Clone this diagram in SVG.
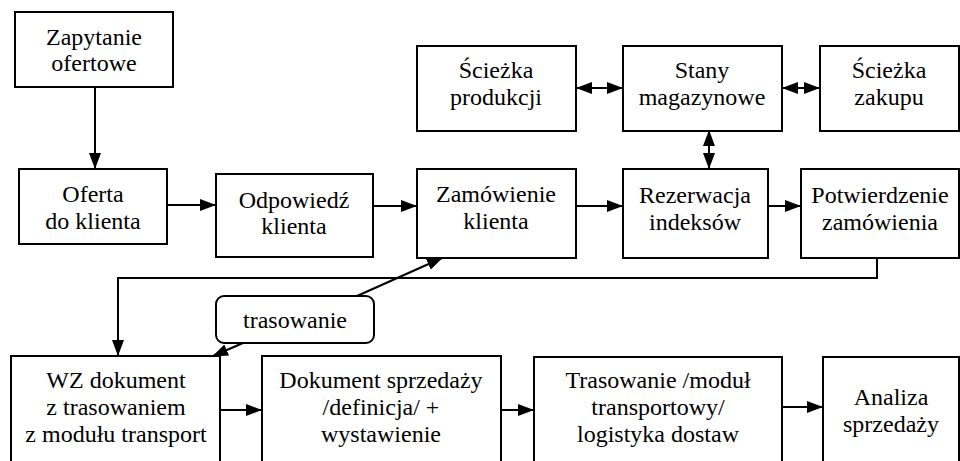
<svg xmlns="http://www.w3.org/2000/svg" width="960" height="461" viewBox="0 0 960 461">
<style>
.box{fill:#fff;stroke:#000;stroke-width:2}
text{font-family:"Times New Roman","Liberation Serif",Times,"Noto Serif","DejaVu Serif",serif;font-size:24px;fill:#000;text-anchor:middle}
.c{fill:none;stroke:#000;stroke-width:2}
</style>
<defs>
<marker id="ah" viewBox="0 0 16 12" markerWidth="16" markerHeight="12" refX="15" refY="6" markerUnits="userSpaceOnUse" orient="auto-start-reverse">
<path d="M0,0 L16,6 L0,12 z" fill="#000"/>
</marker>
</defs>
<rect width="960" height="461" fill="#fff"/>
<g id="connectors">
<line class="c" x1="95" y1="87" x2="95" y2="168" marker-end="url(#ah)"/>
<line class="c" x1="167" y1="205" x2="215" y2="205" marker-end="url(#ah)"/>
<line class="c" x1="373" y1="206" x2="416" y2="206" marker-end="url(#ah)"/>
<line class="c" x1="576" y1="206" x2="622" y2="206" marker-end="url(#ah)"/>
<line class="c" x1="768" y1="206" x2="800" y2="206" marker-end="url(#ah)"/>
<line class="c" x1="577" y1="88" x2="622" y2="88" marker-start="url(#ah)" marker-end="url(#ah)"/>
<line class="c" x1="783" y1="88" x2="819" y2="88" marker-start="url(#ah)" marker-end="url(#ah)"/>
<line class="c" x1="709" y1="131" x2="709" y2="168" marker-start="url(#ah)" marker-end="url(#ah)"/>
<polyline class="c" points="877,258 877,278 118,278 118,355" marker-end="url(#ah)"/>
<line class="c" x1="357" y1="296" x2="442" y2="258" marker-end="url(#ah)"/>
<line class="c" x1="243" y1="343" x2="213" y2="356" marker-end="url(#ah)"/>
<line class="c" x1="220" y1="410" x2="261" y2="410" marker-end="url(#ah)"/>
<line class="c" x1="501" y1="410" x2="533" y2="410" marker-end="url(#ah)"/>
<line class="c" x1="782" y1="407" x2="822" y2="407" marker-end="url(#ah)"/>
</g>
<g id="zapytanie"><rect class="box" x="15" y="12" width="158" height="75"/><text x="94" y="45">Zapytanie</text><text x="94" y="71">ofertowe</text></g>
<g id="oferta"><rect class="box" x="19" y="169" width="148" height="75"/><text x="93" y="202">Oferta</text><text x="93" y="229">do klienta</text></g>
<g id="odpowiedz"><rect class="box" x="216" y="174" width="157" height="83"/><text x="294" y="208">Odpowiedź</text><text x="294" y="234">klienta</text></g>
<g id="zamowienie"><rect class="box" x="417" y="169" width="159" height="89"/><text x="496" y="202">Zamówienie</text><text x="496" y="229">klienta</text></g>
<g id="rezerwacja"><rect class="box" x="623" y="169" width="145" height="89"/><text x="695" y="203">Rezerwacja</text><text x="695" y="230">indeksów</text></g>
<g id="potwierdzenie"><rect class="box" x="801" y="169" width="158" height="89"/><text x="880" y="203">Potwierdzenie</text><text x="880" y="230">zamówienia</text></g>
<g id="sciezka-produkcji"><rect class="box" x="417" y="46" width="159" height="85"/><text x="496" y="78">Ścieżka</text><text x="496" y="105">produkcji</text></g>
<g id="stany"><rect class="box" x="623" y="46" width="159" height="85"/><text x="702" y="78">Stany</text><text x="702" y="105">magazynowe</text></g>
<g id="sciezka-zakupu"><rect class="box" x="820" y="46" width="139" height="85"/><text x="889" y="78">Ścieżka</text><text x="889" y="105">zakupu</text></g>
<g id="trasowanie-label"><rect class="box" x="216" y="296" width="158" height="47" rx="8" ry="8"/><text x="295" y="328">trasowanie</text></g>
<g id="wz"><rect class="box" x="11" y="356" width="209" height="120"/><text x="116" y="388">WZ dokument</text><text x="116" y="415">z trasowaniem</text><text x="116" y="442">z modułu transport</text></g>
<g id="dokument"><rect class="box" x="262" y="356" width="239" height="120"/><text x="381" y="388">Dokument sprzedaży</text><text x="381" y="415">/definicja/ +</text><text x="381" y="442">wystawienie</text></g>
<g id="trasowanie-modul"><rect class="box" x="534" y="357" width="248" height="120"/><text x="658" y="388">Trasowanie /moduł</text><text x="658" y="415">transportowy/</text><text x="658" y="442">logistyka dostaw</text></g>
<g id="analiza"><rect class="box" x="823" y="357" width="136" height="120"/><text x="891" y="405">Analiza</text><text x="891" y="432">sprzedaży</text></g>
</svg>
